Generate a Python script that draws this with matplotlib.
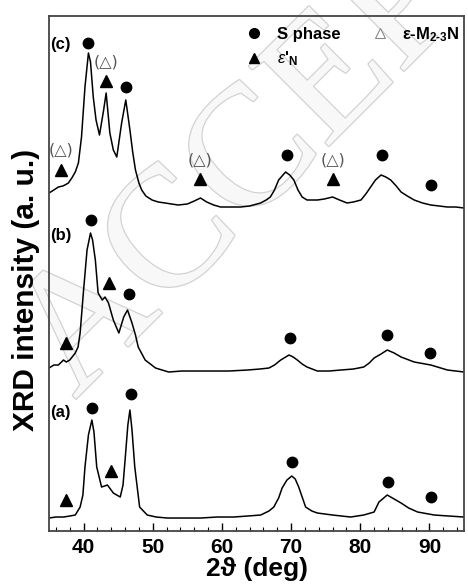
"""
XRD patterns (a), (b), (c) with S phase / epsilon' / epsilon-M2-3N peak markers.
"""

import matplotlib
matplotlib.use("Agg")
import matplotlib.pyplot as plt
import matplotlib.patheffects as pe
from matplotlib.lines import Line2D
from matplotlib.ticker import MultipleLocator

plt.rcParams['font.family'] = ['Liberation Sans', 'DejaVu Sans']
plt.rcParams['mathtext.fontset'] = 'custom'
plt.rcParams['mathtext.rm'] = 'Liberation Sans:bold'
plt.rcParams['mathtext.it'] = 'Liberation Sans:italic'
plt.rcParams['mathtext.bf'] = 'Liberation Sans:bold'

# ---- pattern (a) (2theta, intensity a.u.)
tt_a = [35.0, 36.0, 37.1, 38.0, 38.8, 39.5, 39.9, 40.2, 40.7, 41.2, 41.5, 41.9,
        42.6, 43.45, 44.3, 45.3, 45.7, 46.0, 46.4, 46.7, 47.0, 47.4, 48.1, 49.2,
        50.5, 52.1, 54.5, 56.9, 59.3, 61.7, 63.7, 65.6, 66.8, 67.5, 68.2, 68.7,
        69.4, 70.1, 70.6, 71.1, 71.6, 72.1, 73.0, 73.8, 76.0, 78.6, 80.5, 81.5,
        82.0, 82.7, 83.9, 84.9, 85.9, 87.0, 88.3, 90.7, 92.8, 95.0]
int_a = [13, 14, 14, 15, 16, 24, 36, 64, 96, 111, 99, 64,
         44, 46, 38, 34, 46, 71, 106, 121, 101, 64, 24, 16,
         14, 13, 13, 13, 14, 14, 15, 16, 20, 24, 33, 43,
         51, 55, 52, 44, 34, 24, 20, 18, 16, 14, 16, 18,
         19, 29, 36, 32, 28, 23, 19, 16, 15, 14]

# ---- pattern (b)
tt_b = [35.0, 35.7, 36.35, 37.1, 37.5, 38.0, 38.8, 39.2, 39.5, 40.0, 40.5, 41.0,
        41.3, 41.7, 42.1, 42.7, 43.1, 43.6, 44.3, 45.1, 45.8, 46.35, 47.0, 47.5,
        47.9, 48.9, 50.4, 52.3, 54.2, 56.5, 58.8, 61.0, 63.7, 65.5, 66.8, 67.6,
        68.5, 69.7, 70.3, 70.9, 71.6, 72.3, 73.8, 75.5, 77.2, 79.0, 80.5, 81.3,
        82.0, 83.0, 83.9, 84.9, 85.9, 87.8, 90.2, 92.6, 95.0]
int_b = [163, 166, 166, 171, 169, 171, 178, 184, 198, 241, 281, 298,
         291, 271, 238, 231, 234, 228, 211, 198, 214, 221, 208, 196,
         184, 171, 163, 159, 160, 160, 160, 160, 161, 162, 163, 166,
         171, 176, 174, 171, 167, 164, 160, 160, 161, 162, 164, 168,
         173, 177, 181, 178, 174, 169, 166, 161, 159]

# ---- pattern (c)
tt_c = [35.0, 35.7, 36.35, 37.0, 37.3, 37.8, 38.3, 38.8, 39.25, 39.7, 40.2, 40.7,
        41.0, 41.4, 41.8, 42.3, 42.9, 43.26, 43.8, 44.3, 44.8, 45.5, 46.1, 46.7,
        47.1, 47.5, 48.0, 48.4, 49.0, 49.9, 50.8, 51.8, 52.7, 53.7, 55.0, 56.0,
        56.9, 57.8, 58.8, 59.8, 61.0, 62.7, 64.0, 65.6, 66.4, 67.0, 67.6, 68.2,
        69.2, 69.8, 70.4, 71.0, 71.6, 72.3, 73.0, 73.8, 74.8, 76.0, 77.0, 78.1,
        79.0, 80.1, 80.8, 81.5, 82.2, 83.0, 83.7, 84.4, 85.2, 85.9, 86.8, 87.8,
        89.0, 90.2, 91.4, 92.6, 93.8, 95.0]
int_c = [338, 341, 344, 345, 346, 348, 353, 359, 368, 394, 444, 478,
         469, 434, 411, 396, 421, 438, 398, 381, 374, 408, 431, 401,
         379, 361, 348, 341, 335, 331, 329, 328, 327, 326, 327, 330,
         333, 329, 326, 324, 324, 324, 325, 328, 331, 334, 341, 351,
         359, 356, 351, 341, 334, 331, 331, 331, 332, 334, 331, 328,
         329, 331, 337, 344, 351, 356, 354, 351, 345, 339, 335, 331,
         328, 326, 325, 324, 324, 323]

# ---- phase markers (2theta, level)
s_tt = [40.7, 46.2, 69.4, 83.2, 90.2,
        41.0, 46.5, 69.8, 83.8, 90.1,
        41.2, 46.8, 70.1, 84.0, 90.2]
s_lvl = [488, 444, 376, 376, 346,
         311, 237, 193, 196, 178,
         123, 137, 69, 49, 34]

eps_tt = [36.8, 43.2, 56.9, 76.0, 37.4, 43.7, 37.4, 44.0]
eps_lvl = [361, 450, 352, 352, 188, 248, 31, 60]

m23_tt = [36.8, 43.2, 56.9, 76.0]
m23_lvl = [381, 469, 371, 371]

panel_labels = ['(a)', '(b)', '(c)']
panel_lvl = [119, 296, 486]

fig = plt.figure(figsize=(4.68, 5.88), dpi=100)
ax = fig.add_axes([0.1047, 0.0969, 0.8868, 0.8759])
ax.patch.set_alpha(0)

# watermark
fig.text(0.16, 0.32, 'ACCEPTED', family=['Liberation Serif', 'DejaVu Serif'],
         fontsize=124, rotation=45, rotation_mode='anchor', ha='left', va='baseline',
         color='#f8f8f8', zorder=-1,
         path_effects=[pe.withStroke(linewidth=1.8, foreground='#d2d2d2')])

for tt, yy in [(tt_a, int_a), (tt_b, int_b), (tt_c, int_c)]:
    ax.plot(tt, yy, color='black', lw=1.1)

ax.plot(s_tt, s_lvl, 'o', color='black', ms=7.5, ls='none')
ax.plot(eps_tt, eps_lvl, '^', color='black', ms=8, ls='none')
for x, y in zip(m23_tt, m23_lvl):
    ax.text(x, y, '(\u25b3)', ha='center', va='center', fontsize=11.5,
            color='#555555', family=['DejaVu Sans'])

for lab, y in zip(panel_labels, panel_lvl):
    ax.text(35.2, y, lab, ha='left', va='center', fontsize=12, fontweight='bold')

# legend
h_s = Line2D([], [], marker='o', color='black', ls='none', ms=7)
h_e = Line2D([], [], marker='^', color='black', ls='none', ms=7)
h_m = Line2D([], [], marker='^', mfc='white', mec='#888888', ls='none', ms=7, mew=0.8)
leg = ax.legend([h_s, h_e, h_m],
                ['S phase', r"$\mathit{\varepsilon}$'$_{\mathbf{N}}$",
                 '\u03b5-M$_{\\mathbf{2\\text{-}3}}$N'],
                ncol=2, loc='upper right', frameon=False,
                prop={'weight': 'bold', 'size': 12},
                handlelength=1.0, handletextpad=0.85, columnspacing=1.85,
                labelspacing=0.45, borderaxespad=0.0, bbox_to_anchor=(1.006, 0.995))

ax.set_xlim(35, 95)
ax.set_ylim(0, 515)
ax.set_yticks([])
ax.xaxis.set_major_locator(MultipleLocator(10))
ax.xaxis.set_minor_locator(MultipleLocator(2))
ax.tick_params(axis='x', which='major', direction='in', length=6, width=1.0,
               labelsize=15, pad=5, top=False)
ax.tick_params(axis='x', which='minor', direction='in', length=3, width=0.8, top=False)
for lbl in ax.get_xticklabels():
    lbl.set_fontweight('bold')
for sp in ax.spines.values():
    sp.set_color('#444444')
    sp.set_linewidth(1.3)

ax.set_xlabel('2\u03d1 (deg)', fontsize=19, fontweight='bold', labelpad=0)
ax.set_ylabel('XRD intensity (a. u.)', fontsize=21.5, fontweight='bold')
ax.yaxis.set_label_coords(-0.022, 0.468)

fig.savefig('out.png', dpi=100)
